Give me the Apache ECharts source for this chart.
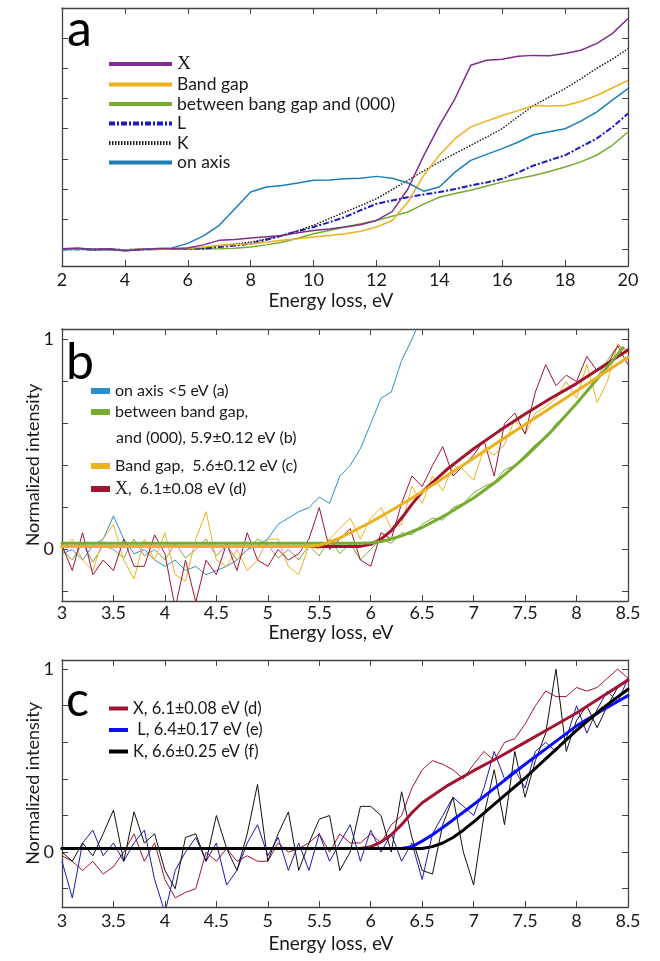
<!DOCTYPE html>
<html><head><meta charset="utf-8">
<script src="https://cdn.jsdelivr.net/npm/echarts@6/dist/echarts.min.js"></script>
<style>html,body{margin:0;padding:0;background:#fff}#main{width:660px;height:961px}</style>
</head><body><div id="main"></div>
<script>
// ---------- Panel a (arbitrary units) ----------
const xA = [2,2.5,3,3.5,4,4.5,5,5.5,6,6.5,7,7.5,8,8.5,9,9.5,10,10.5,11,11.5,12,12.5,13,13.5,14,14.5,15,15.5,16,16.5,17,17.5,18,18.5,19,19.5,20];
const aX = [0.02,0.05,0.00,0.02,-0.05,0.00,0.02,0.03,0.05,0.15,0.30,0.33,0.38,0.42,0.46,0.55,0.63,0.68,0.74,0.82,0.96,1.25,2.00,3.10,4.10,5.00,6.10,6.27,6.30,6.40,6.43,6.42,6.49,6.60,6.82,7.15,7.65];
const aBand = [0,0.01,-0.01,0,-0.02,0.01,0.00,0.02,0.03,0.08,0.13,0.16,0.19,0.24,0.30,0.35,0.41,0.46,0.52,0.60,0.74,0.96,1.57,2.45,3.12,3.67,4.06,4.25,4.44,4.60,4.77,4.75,4.77,4.90,5.10,5.35,5.60];
const aGreen = [0,0,0.01,0,-0.01,0,0,0.01,0.01,0.01,0.02,0.04,0.08,0.15,0.24,0.37,0.52,0.63,0.74,0.85,0.96,1.10,1.24,1.50,1.73,1.85,1.96,2.10,2.23,2.34,2.45,2.58,2.73,2.90,3.12,3.45,3.89];
const aL = [0,0.01,-0.01,0,-0.02,0,0.01,0.01,0.02,0.03,0.08,0.13,0.19,0.32,0.46,0.60,0.74,0.90,1.07,1.30,1.51,1.62,1.73,1.82,1.90,2.00,2.12,2.22,2.34,2.55,2.78,2.95,3.12,3.40,3.67,4.05,4.50];
const aK = [0,0.01,0,0.01,-0.02,0,0.01,0.02,0.03,0.05,0.13,0.18,0.24,0.35,0.46,0.62,0.80,1.02,1.24,1.45,1.68,1.98,2.29,2.60,2.90,3.18,3.45,3.72,4.00,4.40,4.77,5.05,5.33,5.65,6.00,6.30,6.65];
const aOnAxis = [0.00,0.02,-0.02,0.00,-0.03,0.00,0.03,0.05,0.20,0.45,0.80,1.35,1.90,2.07,2.12,2.20,2.29,2.30,2.34,2.36,2.42,2.36,2.20,1.93,2.07,2.56,2.95,3.15,3.34,3.55,3.80,3.90,4.00,4.25,4.55,4.95,5.33];
const aTicksX = [2,20,2];
const aTicksY = [0,1,2,3,4,5,6,7];

// ---------- Panels b, c raw spectra (normalized intensity) ----------
const xR = [3.0,3.1,3.2,3.3,3.4,3.5,3.6,3.7,3.8,3.9,4.0,4.1,4.2,4.3,4.4,4.5,4.6,4.7,4.8,4.9,5.0,5.1,5.2,5.3,5.4,5.5,5.6,5.7,5.8,5.9,6.0,6.1,6.2,6.3,6.4,6.5,6.6,6.7,6.8,6.9,7.0,7.1,7.2,7.3,7.4,7.5,7.6,7.7,7.8,7.9,8.0,8.1,8.2,8.3,8.4,8.5];
const bAxisRaw = [-0.02,0,-0.05,0.02,0.05,0.16,0.05,-0.02,0,-0.05, -0.08,-0.05,-0.10,-0.08,-0.12,-0.10,-0.08,-0.05,0,0.02, 0.05,0.12,0.15,0.18,0.20,0.25,0.22,0.35,0.40,0.48, 0.60,0.72,0.75,0.90,1.00,1.12];
const bGreenRaw = [0,-0.05,0.03,-0.06,0.02,0,-0.04,0.05,-0.03,0, -0.05,0.03,-0.04,0,0.05,-0.03,0.02,-0.05,0,0.05, 0.02,-0.04,0,-0.05,0.02,-0.03,0.05,-0.02,0.03,-0.05, 0,0.05,0.03,0.08,0.07,0.12,0.15,0.14,0.20,0.22, 0.27,0.30,0.32,0.38,0.40,0.45,0.50,0.53,0.60,0.64, 0.70,0.76,0.82,0.90,0.97,0.95];
const bBandRaw = [0,0.05,-0.05,-0.10,0.05,0.12,-0.05,-0.14,0.05,-0.05, 0.08,-0.12,-0.15,0.05,0.18,-0.05,-0.08,0,-0.10,-0.05, 0.05,0.05,-0.08,-0.12,0.02,0,0.05,0.10,0.15,0.05, 0.15,0.20,0.10,0.12,0.30,0.22,0.35,0.28,0.40,0.38, 0.33,0.48,0.45,0.50,0.62,0.55,0.65,0.68,0.72,0.80, 0.72,0.88,0.70,0.80,0.98,0.93];
const bXRaw = [0.02,-0.10,0.08,-0.12,-0.05,-0.10,0.05,-0.08,-0.08,0.07, -0.02,-0.28,-0.05,-0.25,-0.05,-0.12,0.03,-0.10,0.08,-0.05, -0.08,0,-0.05,-0.02,0.05,0.20,0,0.05,0.10,-0.05, -0.08,0.08,0.05,0.22,0.35,0.30,0.40,0.49,0.35,0.40, 0.45,0.52,0.35,0.60,0.65,0.55,0.75,0.88,0.78,0.83, 0.80,0.92,0.85,0.88,0.97,0.88];
const cKRaw = [0,-0.05,0.05,-0.02,0.10,0.23,-0.05,0.22,0.05,0.10, -0.10,-0.20,0.08,0.10,-0.05,0.20,0.02,-0.10,0.10,0.37, -0.05,0.10,0.22,-0.10,0.05,0.18,0.20,-0.10,0,0.25, 0.25,0.20,0,0.33,0.08,-0.10,-0.12,0.15,0.30,0, -0.18,0.20,0.45,0.15,0.55,0.30,0.50,0.65,1.00,0.55, 0.72,0.80,0.68,0.80,0.90,0.95];
const cLRaw = [-0.05,-0.25,0.05,0.12,-0.02,0.05,-0.05,0.05,0.12,-0.15, -0.33,-0.10,0,0.08,-0.05,0.05,-0.18,-0.10,0.05,0.15, -0.02,0.08,-0.10,0.05,-0.10,0.10,-0.05,0.05,0.15,-0.05, 0.12,0,0.10,-0.05,0.05,-0.15,0.10,0.20,0.30,0.25, 0.20,0.35,0.55,0.40,0.45,0.35,0.55,0.60,0.55,0.62, 0.80,0.65,0.78,0.88,0.82,0.95];
const cXRaw = [-0.02,-0.05,-0.10,-0.05,-0.12,-0.08,0,0.10,-0.05,0.05, -0.15,-0.25,-0.22,-0.20,0,-0.05,0.02,-0.05,-0.02,-0.05, -0.05,0.05,0,0.02,0.05,0.10,0,0.10,0.05,0.05, 0.10,0.05,0.15,0.20,0.35,0.45,0.50,0.48,0.45,0.40, 0.48,0.55,0.50,0.60,0.62,0.70,0.80,0.88,0.85,0.85, 0.90,0.88,0.90,0.95,1.00,0.95];

// ---------- Fits ----------
const fitBXX = [3,5.9,6.0,6.1,6.2,6.3,6.4,6.5,6.75,7.0,7.25,7.5,7.75,8.0,8.25,8.5];
const fitBXY = [0.015,0.015,0.025,0.05,0.09,0.15,0.215,0.275,0.385,0.48,0.565,0.645,0.72,0.79,0.87,0.95];
const fitBBandX = [3,5.4,5.5,5.6,5.7,5.8,5.9,6.0,6.25,6.5,6.75,7.0,7.25,7.5,7.75,8.0,8.25,8.5];
const fitBBandY = [0.015,0.015,0.02,0.035,0.055,0.08,0.105,0.13,0.20,0.275,0.355,0.435,0.515,0.595,0.675,0.755,0.835,0.915];
const fitBGreenX = [3,5.9,6.0,6.1,6.2,6.3,6.5,6.75,7.0,7.25,7.5,7.75,8.0,8.25,8.45];
const fitBGreenY = [0.03,0.03,0.032,0.038,0.05,0.065,0.105,0.17,0.245,0.335,0.44,0.56,0.695,0.84,0.96];
const fitCXX = [3,5.9,6.0,6.1,6.2,6.3,6.4,6.5,6.75,7.0,7.25,7.5,7.75,8.0,8.25,8.5];
const fitCXY = [0.02,0.02,0.03,0.055,0.095,0.15,0.215,0.27,0.365,0.445,0.52,0.60,0.68,0.76,0.85,0.94];
const fitCLX = [3,6.3,6.4,6.5,6.6,6.75,7.0,7.25,7.5,7.75,8.0,8.25,8.5];
const fitCLY = [0.02,0.02,0.03,0.06,0.095,0.155,0.26,0.37,0.48,0.585,0.69,0.775,0.855];
const fitCKX = [3,6.5,6.6,6.7,6.8,6.9,7.0,7.25,7.5,7.75,8.0,8.25,8.5];
const fitCKY = [0.02,0.02,0.03,0.05,0.08,0.12,0.165,0.285,0.405,0.535,0.665,0.785,0.89];
const bcTicksY = [-0.2,0,0.2,0.4,0.6,0.8,1];
const bcLabelsY = [0,1];

const FONT = 'Lato';
const AX = '#444';
function zip(xs, ys){ return ys.map((y,i)=>[xs[i], y]); }

const gridsPos = [
  {left:62, top:8, width:566, height:258},
  {left:62, top:329, width:566, height:272},
  {left:62, top:660, width:566, height:247}
];

function xPair(gi, min, max, interval, margin, gap){
  const base = {type:'value', gridIndex:gi, min:min, max:max, interval:interval,
    axisLine:{show:true, onZero:false, lineStyle:{color:AX, width:1.3}},
    axisTick:{show:true, inside:true, length:6, lineStyle:{color:AX, width:1}},
    splitLine:{show:false}};
  return [
    Object.assign({}, base, {position:'bottom',
      axisLabel:{color:'#1a1a1a', fontSize:18, fontFamily:FONT, margin:margin},
      name:'Energy loss, eV', nameLocation:'middle', nameGap:gap,
      nameTextStyle:{color:'#1a1a1a', fontSize:19, fontFamily:FONT, padding:[0,28,0,0]}}),
    Object.assign({}, base, {position:'top', axisLabel:{show:false}})
  ];
}
function yPair(gi, min, max, ticks, labels, name){
  const base = {type:'value', gridIndex:gi, min:min, max:max,
    axisLine:{show:true, onZero:false, lineStyle:{color:AX, width:1.3}},
    axisTick:{show:true, inside:true, length:6, customValues:ticks, lineStyle:{color:AX, width:1}},
    splitLine:{show:false}};
  const left = Object.assign({}, base, {position:'left',
      axisLabel:{show: labels.length>0, customValues: labels.length?labels:undefined, color:'#1a1a1a', fontSize:18, fontFamily:FONT, margin:8}});
  if (name) Object.assign(left, {name:name, nameLocation:'middle', nameGap:20, nameMoveOverlap:false,
      nameTextStyle:{color:'#1a1a1a', fontSize:18, fontFamily:FONT}});
  return [left, Object.assign({}, base, {position:'right', axisLabel:{show:false}})];
}

const xAxes = [].concat(xPair(0,aTicksX[0],aTicksX[1],aTicksX[2],5,25), xPair(1,3,8.5,0.5,3,22), xPair(2,3,8.5,0.5,5,27));
const yAxes = [].concat(yPair(0,-0.55,8,aTicksY,[],null), yPair(1,-0.245,1.05,bcTicksY,bcLabelsY,'Normalized intensity'), yPair(2,-0.3,1.05,bcTicksY,bcLabelsY,'Normalized intensity'));

function line(name, xi, yi, data, color, width, extra){
  return Object.assign({type:'line', name:name, xAxisIndex:xi, yAxisIndex:yi, data:data,
    showSymbol:false, symbol:'none', color:color, animation:false,
    lineStyle:{color:color, width:width}}, extra||{});
}
function fit(name, xi, yi, data, color){
  return line(name, xi, yi, data, color, 3, {lineStyle:{color:color, width:3, join:'round', cap:'round'}});
}

const series = [
  // panel a
  line('between bang gap and (000)',0,0,zip(xA,aGreen),'#77AC30',1.5),
  line('L',0,0,zip(xA,aL),'#1a1ac8',2,{lineStyle:{color:'#1a1ac8',width:2,type:[6,2,2,2]}}),
  line('K',0,0,zip(xA,aK),'#222222',1.5,{lineStyle:{color:'#222222',width:1.5,type:[1.5,1.5]}}),
  line('Band gap',0,0,zip(xA,aBand),'#EDB120',1.5),
  line('on axis',0,0,zip(xA,aOnAxis),'#1b80b5',1.5),
  line('X',0,0,zip(xA,aX),'#7E2F8E',1.5),
  // panel b raw
  line('on axis <5 eV (a)',2,2,zip(xR,bAxisRaw),'#2a8fca',1),
  line('_bGreenRaw',2,2,zip(xR,bGreenRaw),'#77AC30',1),
  line('_bBandRaw',2,2,zip(xR,bBandRaw),'#EDB120',1),
  line('_bXRaw',2,2,zip(xR,bXRaw),'#A2142F',1),
  // panel b fits
  fit('X,  6.1±0.08 eV (d)',2,2,zip(fitBXX,fitBXY),'#A2142F'),
  fit('between band gap,',2,2,zip(fitBGreenX,fitBGreenY),'#77AC30'),
  fit('Band gap,  5.6±0.12 eV (c)',2,2,zip(fitBBandX,fitBBandY),'#EDB120'),
  // panel c raw
  line('_cXRaw',4,4,zip(xR,cXRaw),'#A2142F',1),
  line('_cLRaw',4,4,zip(xR,cLRaw),'#1a1ab8',1),
  line('_cKRaw',4,4,zip(xR,cKRaw),'#111111',1),
  // panel c fits
  fit('X, 6.1±0.08 eV (d)',4,4,zip(fitCXX,fitCXY),'#A2142F'),
  fit(' L, 6.4±0.17 eV (e)',4,4,zip(fitCLX,fitCLY),'#0a0aff'),
  fit('K, 6.6±0.25 eV (f)',4,4,zip(fitCKX,fitCKY),'#000000')
];

const serifX = function(name){ return name.replace(/^X/, '{s|X}'); };
const legTxt = function(sz){ return {fontFamily:FONT, fontSize:sz, color:'#1a1a1a',
  rich:{s:{fontFamily:'Liberation Serif', fontSize:sz+2, color:'#1a1a1a'}}}; };
const noSym = {color:'rgba(0,0,0,0)', borderColor:'rgba(0,0,0,0)', borderWidth:0};

const legends = [
  {left:107, top:54, padding:0, orient:'vertical', itemWidth:63, itemHeight:4, itemGap:1.5, selectedMode:false,
   data:['X','Band gap','between bang gap and (000)','L','K','on axis'],
   itemStyle:noSym, lineStyle:{width:4}, textStyle:legTxt(17.5), formatter:serifX},
  {left:91, top:383, padding:0, orient:'vertical', icon:'rect', itemWidth:19, itemHeight:6, itemGap:5, selectedMode:false,
   data:['on axis <5 eV (a)','between band gap,'], itemStyle:{borderWidth:0}, textStyle:legTxt(16)},
  {left:91, top:458, padding:0, orient:'vertical', icon:'rect', itemWidth:19, itemHeight:6, itemGap:6, selectedMode:false,
   data:['Band gap,  5.6±0.12 eV (c)','X,  6.1±0.08 eV (d)'], itemStyle:{borderWidth:0}, textStyle:legTxt(16), formatter:serifX},
  {left:109, top:700, padding:0, orient:'vertical', icon:'rect', itemWidth:19, itemHeight:4, itemGap:4.5, selectedMode:false,
   data:['X, 6.1±0.08 eV (d)',' L, 6.4±0.17 eV (e)','K, 6.6±0.25 eV (f)'], itemStyle:{borderWidth:0}, textStyle:legTxt(16.5)}
];

const option = {
  backgroundColor:'#ffffff',
  animation:false,
  grid: gridsPos,
  xAxis: xAxes,
  yAxis: yAxes,
  legend: legends,
  series: series,
  graphic: [
    {type:'text', left:67, top:5, style:{text:'a', font:'50px Lato', fill:'#000'}},
    {type:'text', left:66, top:338, style:{text:'b', font:'50px Lato', fill:'#000'}},
    {type:'text', left:66, top:677, style:{text:'c', font:'48px Lato', fill:'#000'}},
    {type:'text', left:116, top:430, style:{text:'and (000), 5.9±0.12 eV (b)', font:'16px Lato', fill:'#1a1a1a'}}
  ]
};
const chart = echarts.init(document.getElementById('main'), null, {renderer:'canvas'});
chart.setOption(option);
</script>
</body></html>
